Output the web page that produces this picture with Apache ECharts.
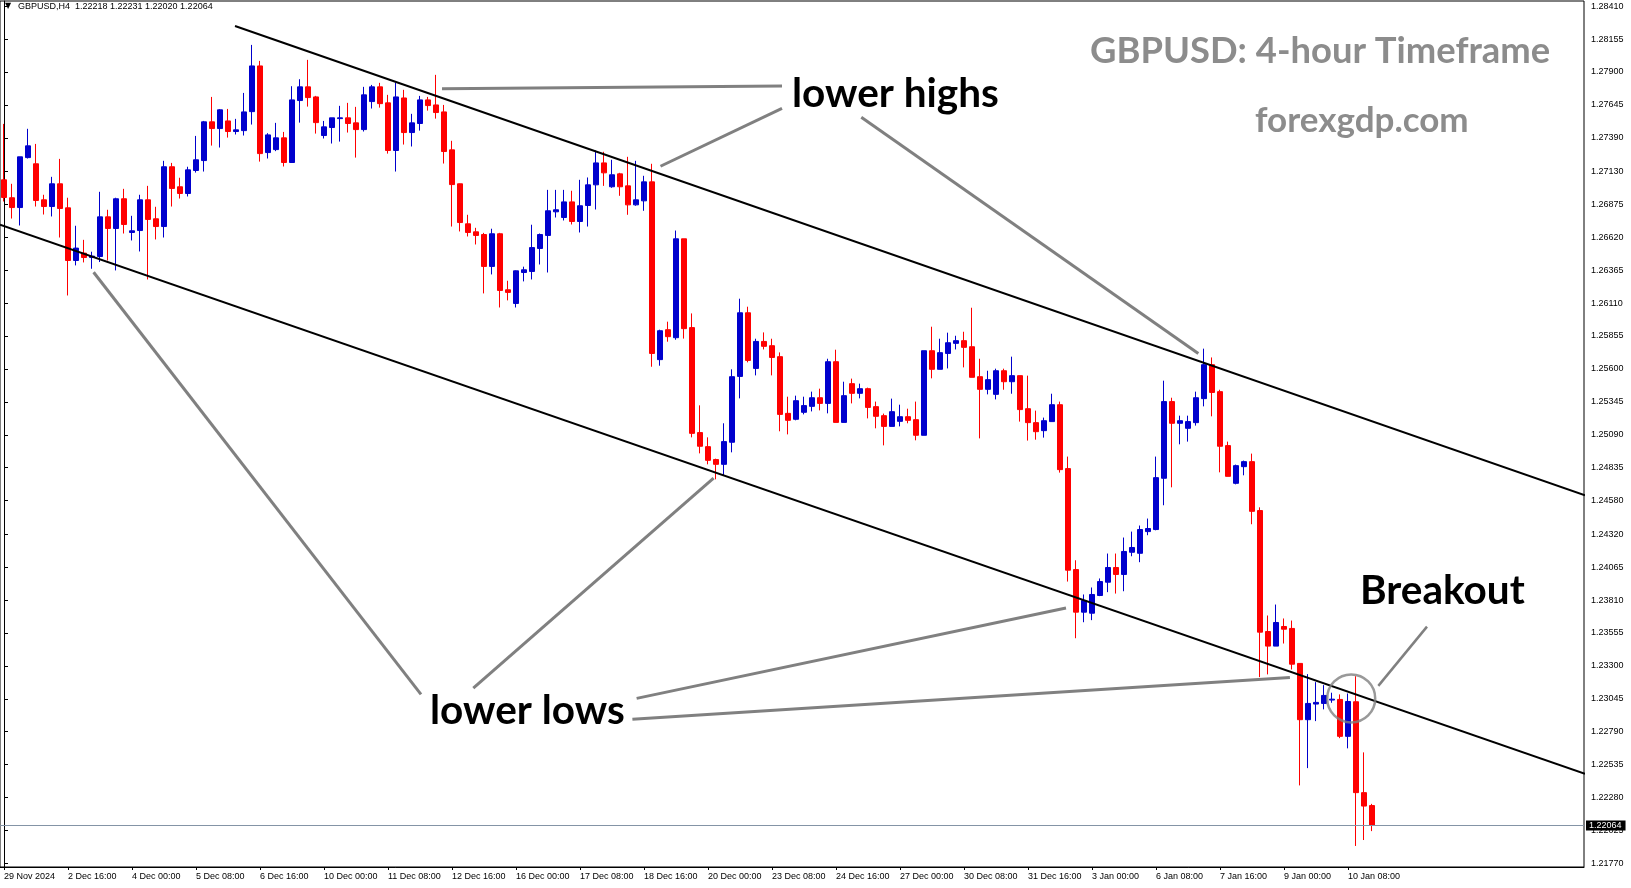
<!DOCTYPE html>
<html><head><meta charset="utf-8">
<script src="https://cdn.jsdelivr.net/npm/echarts@6/dist/echarts.min.js"></script>
<style>html,body{margin:0;padding:0;background:#fff}#c{width:1631px;height:888px}</style>
</head><body><div id="c"></div>
<script>
const symbolName = 'GBPUSD,H4';
const opens = [1.27065,1.26926,1.26850,1.27237,1.27189,1.26910,1.26858,1.27034,1.26848,1.26440,
1.26497,1.26463,1.26471,1.26778,1.26688,1.26918,1.26657,1.26672,1.26910,1.26763,
1.26703,1.27166,1.27011,1.26959,1.27137,1.27214,1.27514,1.27462,1.27521,1.27439,
1.27446,1.27593,1.27947,1.27276,1.27299,1.27390,1.27199,1.27679,1.27785,1.27707,
1.27408,1.27470,1.27539,1.27545,1.27506,1.27454,1.27671,1.27785,1.27661,1.27292,
1.27699,1.27431,1.27501,1.27684,1.27645,1.27591,1.27297,1.27034,1.26724,1.26662,
1.26641,1.26394,1.26647,1.26213,1.26107,1.26347,1.26355,1.26533,1.26634,1.26817,
1.26773,1.26894,1.26742,1.26866,1.27026,1.27196,1.27011,1.27111,1.27018,1.26871,
1.26902,1.27049,1.25672,1.25904,1.25842,1.26608,1.25920,1.25107,1.24998,1.24898,
1.24861,1.25032,1.25542,1.26035,1.25604,1.25813,1.25780,1.25695,1.25256,1.25210,
1.25264,1.25310,1.25377,1.25333,1.25656,1.25186,1.25486,1.25411,1.25447,1.25308,
1.25238,1.25155,1.25194,1.25230,1.25207,1.25086,1.25741,1.25597,1.25720,1.25798,
1.25819,1.25772,1.25540,1.25442,1.25403,1.25586,1.25501,1.25548,1.25292,1.25184,
1.25122,1.25192,1.25323,1.24828,1.24046,1.23716,1.23708,1.23845,1.23948,1.24062,
1.24008,1.24180,1.24172,1.24340,1.24356,1.24753,1.25347,1.25179,1.25140,1.25184,
1.25370,1.25633,1.25424,1.25006,1.24714,1.24843,1.24882,1.24503,1.23566,1.23453,
1.23605,1.23590,1.23319,1.22883,1.23004,1.23009,1.23035,1.23040,1.22754,1.23022,
1.22318,1.22218];
const highs = [1.27498,1.27034,1.27243,1.27460,1.27343,1.26949,1.27088,1.27227,1.26926,1.26709,
1.26600,1.26508,1.26972,1.26833,1.26926,1.26995,1.26786,1.26949,1.27018,1.26856,
1.27212,1.27196,1.27081,1.27166,1.27405,1.27521,1.27707,1.27612,1.27614,1.27537,
1.27738,1.28110,1.27986,1.27426,1.27506,1.27436,1.27790,1.27844,1.27994,1.27715,
1.27521,1.27545,1.27638,1.27661,1.27630,1.27785,1.27800,1.27816,1.27723,1.27816,
1.27762,1.27576,1.27715,1.27707,1.27878,1.27645,1.27367,1.27036,1.26794,1.26693,
1.26654,1.26686,1.26654,1.26283,1.26363,1.26392,1.26717,1.26649,1.26987,1.26987,
1.26987,1.26980,1.27065,1.27083,1.27292,1.27282,1.27220,1.27119,1.27243,1.27212,
1.27096,1.27189,1.25904,1.25966,1.26672,1.26608,1.26030,1.25318,1.25070,1.24905,
1.25179,1.25597,1.26144,1.26082,1.25834,1.25883,1.25834,1.25728,1.25385,1.25393,
1.25385,1.25424,1.25447,1.25679,1.25749,1.25501,1.25525,1.25486,1.25455,1.25347,
1.25254,1.25370,1.25323,1.25292,1.25347,1.25741,1.25927,1.25834,1.25881,1.25857,
1.25888,1.26074,1.25679,1.25586,1.25602,1.25602,1.25695,1.25548,1.25548,1.25277,
1.25223,1.25408,1.25347,1.24921,1.24118,1.23853,1.23907,1.23977,1.24170,1.24170,
1.24294,1.24340,1.24387,1.24441,1.24921,1.25509,1.25377,1.25238,1.25238,1.25424,
1.25757,1.25689,1.25439,1.25037,1.24859,1.24890,1.24944,1.24528,1.23690,1.23775,
1.23667,1.23651,1.23319,1.23236,1.23174,1.23151,1.23092,1.23079,1.23086,1.23220,
1.22630,1.22231];
const lows = [1.26897,1.26765,1.26711,1.27230,1.26858,1.26796,1.26781,1.26618,1.26169,1.26402,
1.26425,1.26376,1.26428,1.26440,1.26363,1.26649,1.26595,1.26510,1.26293,1.26603,
1.26618,1.26858,1.26920,1.26936,1.27121,1.27129,1.27330,1.27315,1.27392,1.27416,
1.27408,1.27493,1.27206,1.27230,1.27287,1.27168,1.27199,1.27508,1.27632,1.27423,
1.27385,1.27346,1.27361,1.27431,1.27237,1.27439,1.27617,1.27624,1.27268,1.27129,
1.27338,1.27323,1.27446,1.27601,1.27539,1.27191,1.26703,1.26665,1.26626,1.26564,
1.26185,1.26332,1.26076,1.26131,1.26076,1.26278,1.26293,1.26409,1.26347,1.26773,
1.26750,1.26719,1.26657,1.26703,1.26835,1.27018,1.27003,1.26941,1.26794,1.26864,
1.26825,1.25617,1.25625,1.25811,1.25826,1.25835,1.25070,1.24946,1.24861,1.24745,
1.24776,1.24954,1.25372,1.25651,1.25550,1.25751,1.25550,1.25117,1.25093,1.25202,
1.25248,1.25271,1.25279,1.25256,1.25186,1.25186,1.25333,1.25372,1.25217,1.25140,
1.25008,1.25155,1.25155,1.25179,1.25047,1.25086,1.25527,1.25597,1.25604,1.25751,
1.25612,1.25535,1.25062,1.25403,1.25364,1.25439,1.25408,1.25192,1.25045,1.25052,
1.25068,1.25192,1.24797,1.23953,1.23514,1.23638,1.23654,1.23840,1.23871,1.23860,
1.23878,1.24149,1.24103,1.24312,1.24350,1.24544,1.24683,1.25016,1.25037,1.25161,
1.25310,1.25233,1.24799,1.24768,1.24706,1.24776,1.24397,1.23213,1.23234,1.23453,
1.23473,1.23272,1.22374,1.22508,1.22872,1.22963,1.23014,1.22740,1.22661,1.21905,
1.21951,1.22020];
const closes = [1.26928,1.26850,1.27243,1.27328,1.26905,1.26858,1.27034,1.26843,1.26440,1.26536,
1.26463,1.26474,1.26778,1.26688,1.26918,1.26719,1.26670,1.26910,1.26758,1.26703,
1.27166,1.26998,1.26959,1.27142,1.27220,1.27514,1.27462,1.27607,1.27439,1.27452,
1.27591,1.27947,1.27268,1.27413,1.27390,1.27199,1.27684,1.27785,1.27702,1.27508,
1.27475,1.27545,1.27545,1.27501,1.27454,1.27723,1.27785,1.27655,1.27292,1.27707,
1.27431,1.27506,1.27684,1.27640,1.27586,1.27284,1.27028,1.26734,1.26657,1.26634,
1.26394,1.26647,1.26208,1.26193,1.26360,1.26368,1.26540,1.26641,1.26825,1.26833,
1.26894,1.26742,1.26864,1.27026,1.27196,1.27119,1.27104,1.27011,1.26871,1.26910,
1.27049,1.25720,1.25896,1.25850,1.26608,1.25912,1.25101,1.25001,1.24892,1.24861,
1.25037,1.25540,1.26035,1.25666,1.25813,1.25775,1.25689,1.25248,1.25202,1.25354,
1.25316,1.25377,1.25333,1.25656,1.25186,1.25393,1.25411,1.25447,1.25302,1.25233,
1.25155,1.25269,1.25230,1.25202,1.25086,1.25741,1.25597,1.25726,1.25803,1.25819,
1.25767,1.25535,1.25442,1.25517,1.25586,1.25501,1.25548,1.25285,1.25184,1.25114,
1.25199,1.25323,1.24820,1.24041,1.23716,1.23806,1.23853,1.23953,1.24062,1.24008,
1.24186,1.24217,1.24356,1.24364,1.24758,1.25347,1.25179,1.25199,1.25192,1.25377,
1.25633,1.25418,1.25001,1.24768,1.24851,1.24882,1.24497,1.23561,1.23453,1.23636,
1.23584,1.23313,1.22883,1.23009,1.23017,1.23071,1.23042,1.22754,1.23024,1.22318,
1.22214,1.22064];

const xTickLabels = ['29 Nov 2024','2 Dec 16:00','4 Dec 00:00','5 Dec 08:00','6 Dec 16:00','10 Dec 00:00',
'11 Dec 08:00','12 Dec 16:00','16 Dec 00:00','17 Dec 08:00','18 Dec 16:00','20 Dec 00:00','23 Dec 08:00',
'24 Dec 16:00','27 Dec 00:00','30 Dec 08:00','31 Dec 16:00','3 Jan 00:00','6 Jan 08:00','7 Jan 16:00',
'9 Jan 00:00','10 Jan 08:00'];
const yTickLabels = [1.28410,1.28155,1.27900,1.27645,1.27390,1.27130,1.26875,1.26620,1.26365,1.26110,
1.25855,1.25600,1.25345,1.25090,1.24835,1.24580,1.24320,1.24065,1.23810,1.23555,1.23300,1.23045,
1.22790,1.22535,1.22280,1.22025,1.21770];
const lastPrice = 1.22064;

// trend lines: [bar position, price]
const upperChannel = [[28.875,1.28256],[197.625,1.24622]];
const lowerChannel = [[-0.5,1.26717],[197.625,1.22464]];
const lowerHighsLines = [
  [[54.75,1.27771],[97.25,1.27792]],
  [[82.06,1.27170],[97.25,1.27618]],
  [[107.16,1.27549],[149.29,1.25720]]
];
const lowerLowsLines = [
  [[11.2,1.26349],[52.125,1.23079]],
  [[58.66,1.23128],[88.7,1.24754]],
  [[79.08,1.23048],[132.75,1.23748]],
  [[78.55,1.22887],[160.74,1.23209]]
];
const breakoutLine = [[171.79,1.23145],[177.875,1.23604]];
const breakoutCircle = [168.4,1.23048];

const SLOTS = 198;
const cats = Array.from({length: SLOTS}, (_, i) => i);
const showTick = (i) => i % 8 === 0 && i / 8 < xTickLabels.length;
const candles = opens.map((o, i) => [o, closes[i], lows[i], highs[i]]);

const lineSeries = (data, color, width) => ({
  type: 'line', xAxisIndex: 1, yAxisIndex: 0, data: data, showSymbol: false, symbol: 'none',
  silent: true, lineStyle: {color: color, width: width}, z: 4, animation: false
});

const series = [
  {
    type: 'candlestick', xAxisIndex: 0, yAxisIndex: 0, data: candles, barWidth: 5,
    itemStyle: {color: '#0000cd', color0: '#ff0000', borderColor: '#0000cd', borderColor0: '#ff0000', borderWidth: 1},
    z: 3,
    markLine: {
      silent: true, symbol: 'none', animation: false, precision: 5,
      lineStyle: {color: '#8494a6', width: 1, type: 'solid'},
      label: {show: true, position: 'end', distance: 2, formatter: lastPrice.toFixed(5),
        backgroundColor: '#000', color: '#fff', fontSize: 9, fontFamily: 'Liberation Sans', padding: [1, 4, 0, 3]},
      data: [{yAxis: lastPrice}]
    }
  },
  lineSeries(upperChannel, '#000', 2),
  lineSeries(lowerChannel, '#000', 2)
];
lowerHighsLines.forEach(l => series.push(lineSeries(l, '#808080', 3)));
lowerLowsLines.forEach(l => series.push(lineSeries(l, '#808080', 3)));
series.push(lineSeries(breakoutLine, '#808080', 2.5));
series.push({
  type: 'scatter', xAxisIndex: 1, yAxisIndex: 0, data: [breakoutCircle], symbol: 'circle', symbolSize: 48,
  silent: true, itemStyle: {color: 'rgba(0,0,0,0)', borderColor: '#808080', borderWidth: 2.5}, z: 5
});

const chart = echarts.init(document.getElementById('c'), null, {renderer: 'canvas'});
chart.setOption({
  animation: false,
  backgroundColor: '#fff',
  grid: {left: 0, right: 47, top: 1, bottom: 21, show: true, borderColor: '#000', borderWidth: 1, backgroundColor: 'transparent'},
  xAxis: [
    {
      type: 'category', data: cats, boundaryGap: true, gridIndex: 0,
      axisLine: {show: true, lineStyle: {color: '#000', width: 1}},
      axisTick: {show: true, interval: (i) => showTick(i), alignWithLabel: true, length: 3, lineStyle: {color: '#000'}},
      axisLabel: {interval: (i) => showTick(i), formatter: (v) => xTickLabels[Number(v) / 8] || '',
        align: 'left', margin: 5, fontSize: 9, fontFamily: 'Liberation Sans', color: '#000'},
      splitLine: {show: false}
    },
    {type: 'value', gridIndex: 0, min: -0.5, max: SLOTS - 0.5, show: false}
  ],
  yAxis: {
    type: 'value', position: 'right', min: 1.21742, max: 1.28450, scale: true,
    axisLine: {show: true, lineStyle: {color: '#000', width: 1}},
    axisTick: {show: true, customValues: yTickLabels, length: 4, lineStyle: {color: '#000'}},
    axisLabel: {customValues: yTickLabels, formatter: (v) => Number(v).toFixed(5), fontSize: 9,
      fontFamily: 'Liberation Sans', color: '#000', margin: 7},
    splitLine: {show: false}
  },
  series: series,
  graphic: [
    {type: 'text', left: 5, top: 2, style: {text: '\u25BC', font: '8px "DejaVu Sans"', fill: '#000'}},
    {type: 'text', left: 18, top: 2, style: {text: symbolName + '  ' + [opens[opens.length-1], highs[highs.length-1], lows[lows.length-1], closes[closes.length-1]].map(v => v.toFixed(5)).join(' '),
      font: '9px "Liberation Sans"', fill: '#000'}},
    {type: 'text', x: 1090, y: 51, style: {text: 'GBPUSD: 4-hour Timeframe', font: 'bold 36.4px Lato', fill: '#8c8c8c', textAlign: 'left', textVerticalAlign: 'middle'}},
    {type: 'text', x: 1255, y: 121, style: {text: 'forexgdp.com', font: 'bold 35px Lato', fill: '#8c8c8c', textAlign: 'left', textVerticalAlign: 'middle'}},
    {type: 'text', x: 792, y: 94, style: {text: 'lower highs', font: 'bold 40.5px Lato', fill: '#000', textAlign: 'left', textVerticalAlign: 'middle'}},
    {type: 'text', x: 430, y: 711, style: {text: 'lower lows', font: 'bold 40.5px Lato', fill: '#000', textAlign: 'left', textVerticalAlign: 'middle'}},
    {type: 'text', x: 1360, y: 591, style: {text: 'Breakout', font: 'bold 40.5px Lato', fill: '#000', textAlign: 'left', textVerticalAlign: 'middle'}}
  ]
});
</script></body></html>
